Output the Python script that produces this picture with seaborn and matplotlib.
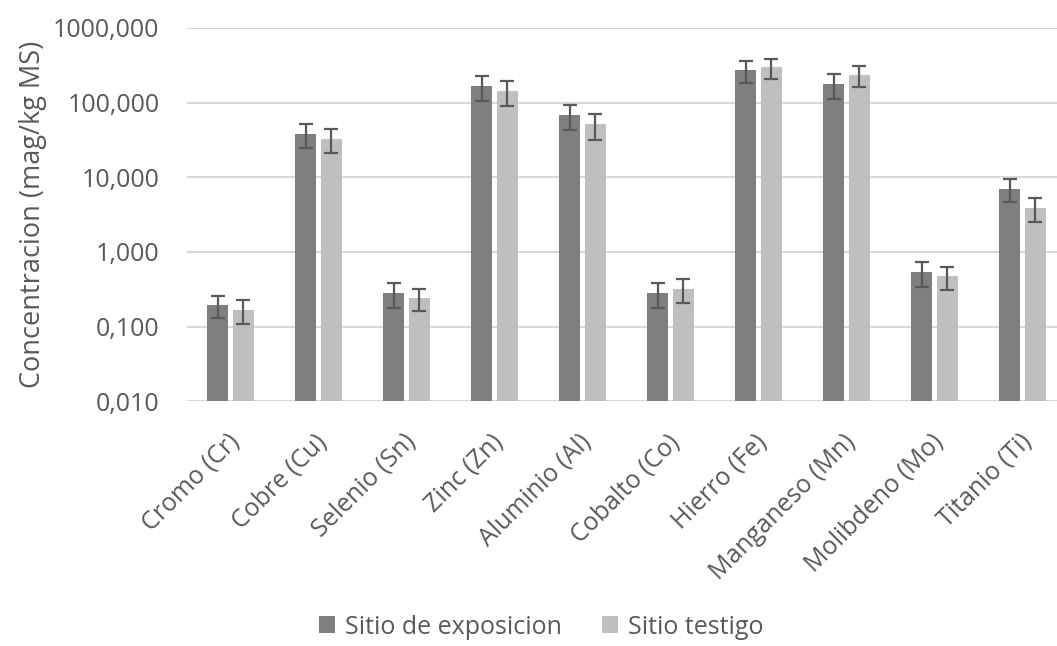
import pandas as pd
import numpy as np
import matplotlib
matplotlib.use("Agg")
import matplotlib.pyplot as plt
import matplotlib.transforms as mtransforms
import seaborn as sns
from matplotlib.ticker import FixedLocator, FuncFormatter, NullLocator

# data
elements = ["Cromo (Cr)", "Cobre (Cu)", "Selenio (Sn)", "Zinc (Zn)", "Aluminio (Al)",
            "Cobalto (Co)", "Hierro (Fe)", "Manganeso (Mn)", "Molibdeno (Mo)", "Titanio (Ti)"]
series = ["Sitio de exposicion", "Sitio testigo"]
exposicion = [0.195, 38.0, 0.28, 166.0, 68.0, 0.28, 276.0, 178.0, 0.54, 7.04]
exposicion_err = [0.065, 13.0, 0.10, 62.0, 25.0, 0.10, 90.0, 65.0, 0.20, 2.4]
testigo = [0.169, 33.0, 0.24, 143.0, 51.0, 0.32, 298.0, 237.0, 0.47, 3.92]
testigo_err = [0.060, 12.0, 0.08, 52.0, 19.0, 0.11, 90.0, 76.0, 0.16, 1.37]
y_ticks = [0.01, 0.1, 1, 10, 100, 1000]

colors = ["#7f7f7f", "#bfbfbf"]
text_color = "#595959"
grid_color = "#d9d9d9"

df = pd.DataFrame({
    "Elemento": elements * 2,
    "Sitio": [series[0]] * len(elements) + [series[1]] * len(elements),
    "Valor": exposicion + testigo,
})
errors = [exposicion_err, testigo_err]
values = [exposicion, testigo]

sns.set_style("white")
plt.rcParams["font.family"] = ["Open Sans", "DejaVu Sans"]

fig = plt.figure(figsize=(10.57, 6.46), dpi=100)
ax = fig.add_axes([186.5 / 1057, (646 - 401.3) / 646, 880 / 1057, (401.3 - 28) / 646])

sns.barplot(data=df, x="Elemento", y="Valor", hue="Sitio", order=elements,
            hue_order=series, palette=colors, width=0.59, gap=0.17,
            errorbar=None, linewidth=0, ax=ax, legend=True)

ax.set_yscale("log")
ax.set_ylim(0.01, 1000)
ax.set_xlim(-0.5, len(elements) - 0.5)

# error bars on top of each bar
for cont, vals, errs in zip(ax.containers, values, errors):
    xs = [p.get_x() + p.get_width() / 2 for p in cont]
    ax.errorbar(xs, vals, yerr=errs, fmt="none", ecolor=text_color,
                elinewidth=1.6, capsize=5.3, capthick=1.6, zorder=3)

ax.yaxis.set_major_locator(FixedLocator(y_ticks))
ax.yaxis.set_minor_locator(NullLocator())
ax.yaxis.set_major_formatter(FuncFormatter(lambda v, p: f"{v:.3f}".replace(".", ",")))
ax.grid(axis="y", color=grid_color, linewidth=1.5)
ax.set_axisbelow(True)
for s in ["top", "right", "left", "bottom"]:
    ax.spines[s].set_visible(False)

ax.tick_params(axis="both", length=0, labelsize=18, labelcolor=text_color)
ax.tick_params(axis="y", pad=19.5)
ax.tick_params(axis="x", pad=0)
shift = mtransforms.ScaledTranslation(-0.04, -0.28, fig.dpi_scale_trans)
for lbl in ax.get_xticklabels():
    lbl.set_rotation(45)
    lbl.set_ha("right")
    lbl.set_rotation_mode("anchor")
    lbl.set_transform(lbl.get_transform() + shift)
ax.set_xlabel("")
ax.set_ylabel("Concentracion (mag/kg MS)", fontsize=19.5, color=text_color, labelpad=4)

handles, labels = ax.get_legend_handles_labels()
ax.get_legend().remove()
fig.legend(handles, labels, loc="center", bbox_to_anchor=(541 / 1057, 1 - 627 / 646),
           ncol=2, frameon=False, fontsize=18, labelcolor=text_color,
           handlelength=0.65, handleheight=0.65, handletextpad=0.4, columnspacing=1.6)

fig.savefig("out.png", dpi=100)
